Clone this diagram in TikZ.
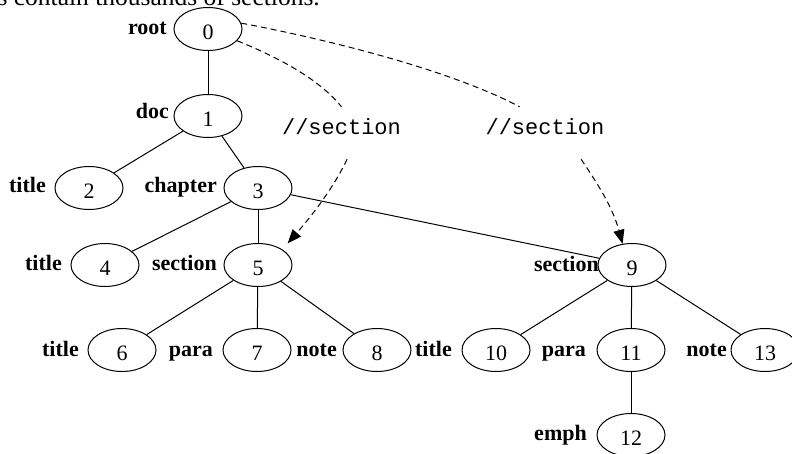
\documentclass[tikz,border=0pt]{standalone}
\usepackage{fontspec}
\setmainfont{Liberation Serif}
\setmonofont{Liberation Mono}
\usetikzlibrary{arrows.meta,shapes.geometric}
\begin{document}
\begin{tikzpicture}[x=1pt,y=-1pt,
  elem/.style={draw, line width=1pt, ellipse, inner sep=0pt,
    minimum width=68pt, minimum height=43pt, text height=20pt, text depth=0pt,
    font=\fontsize{22}{26}\selectfont},
  tag/.style={anchor=base east, inner sep=0pt, font=\fontsize{22}{26}\selectfont\bfseries},
  query/.style={anchor=base, inner sep=0pt, text height=27pt, text depth=25pt,
    text width=120pt, align=center, font=\fontsize{22}{26}\selectfont\ttfamily},
  tree/.style={line width=1pt},
  hop/.style={line width=1pt, dash pattern=on 6pt off 4pt},
  hit/.style={-{Triangle[length=14pt,width=11pt]}},
]
\useasboundingbox (0,0) rectangle (792,453);

% running text above the figure, cut by the page edge
\node[anchor=base east, inner sep=0pt, font=\fontsize{25.5}{30}\selectfont] (cap) at (320,5)
  {s contain thousands of sections.};

% document tree
\node[elem] (n0)  at (208,29)  {0};
\node[elem] (n1)  at (208,116) {1};
\node[elem] (n2)  at (89,188)  {2};
\node[elem] (n3)  at (258,188) {3};
\node[elem] (n4)  at (105,265) {4};
\node[elem] (n5)  at (258,265) {5};
\node[elem] (n6)  at (122,350) {6};
\node[elem] (n7)  at (257,350) {7};
\node[elem] (n8)  at (377,350) {8};
\node[elem] (n9)  at (632,265) {9};
\node[elem] (n10) at (496,350) {10};
\node[elem] (n11) at (631,350) {11};
\node[elem] (n12) at (631,435) {12};
\node[elem] (n13) at (765,350) {13};

% element names
\node[tag] (t0)  at (167,34)  {root};
\node[tag] (t1)  at (169,118) {doc};
\node[tag] (t2)  at (46,192)  {title};
\node[tag] (t3)  at (217,192) {chapter};
\node[tag] (t4)  at (62,270)  {title};
\node[tag] (t5)  at (217,270) {section};
\node[tag] (t6)  at (79,356)  {title};
\node[tag] (t7)  at (213,356) {para};
\node[tag] (t8)  at (337,356) {note};
\node[tag] (t9)  at (599,271) {section};
\node[tag] (t10) at (452,356) {title};
\node[tag] (t11) at (586,356) {para};
\node[tag] (t12) at (587,440) {emph};
\node[tag] (t13) at (727,356) {note};

% path queries
\node[query] (s1) at (341.5,134) {//section};
\node[query] (s2) at (545,134)   {//section};

% parent-child edges
\draw[tree] (n0) -- (n1);
\draw[tree] (n1) -- (n2);
\draw[tree] (n1) -- (n3);
\draw[tree] (n3) -- (n4);
\draw[tree] (n3) -- (n5);
\draw[tree] (n3) -- (n9);
\draw[tree] (n5) -- (n6);
\draw[tree] (n5) -- (n7);
\draw[tree] (n5) -- (n8);
\draw[tree] (n9) -- (n10);
\draw[tree] (n9) -- (n11);
\draw[tree] (n9) -- (n13);
\draw[tree] (n11) -- (n12);

% query evaluation from the root
\draw[hop] (n0.-22) .. controls (280,58) and (320,80) .. (s1.north);
\draw[hop] (n0.10) .. controls (330,40) and (450,70) .. (s2.134);
\draw[hop,hit,shorten >=8pt] (s1.-78) .. controls (335,185) and (315,212) .. (n5.north east);
\draw[hop,hit] (s2.-36.6) .. controls (595,180) and (612,205) .. (n9.114);
\end{tikzpicture}
\end{document}
